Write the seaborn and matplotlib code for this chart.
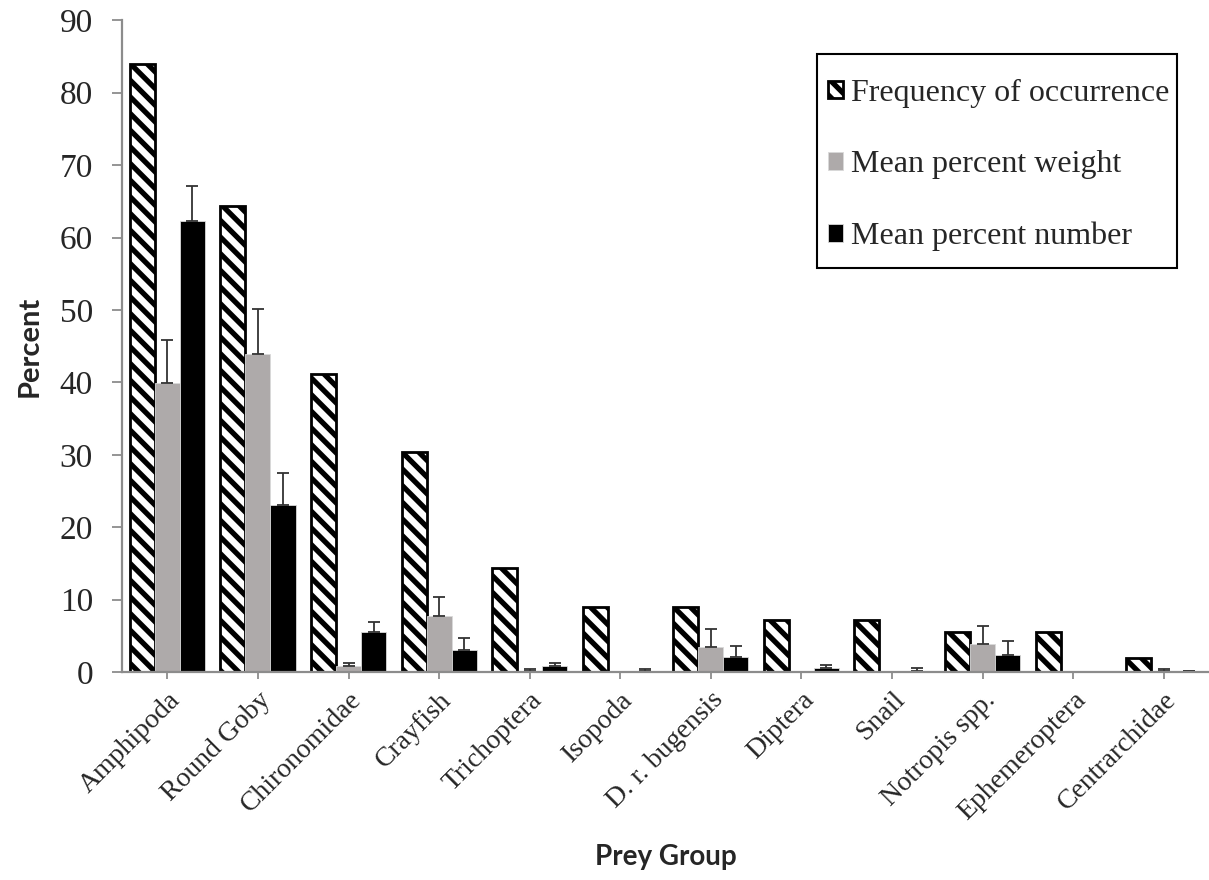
import numpy as np
import pandas as pd
import matplotlib
matplotlib.use("Agg")
import matplotlib.pyplot as plt
import seaborn as sns
from matplotlib.patches import Rectangle

# Daten
categories = ["Amphipoda", "Round Goby", "Chironomidae", "Crayfish", "Trichoptera",
              "Isopoda", "D. r. bugensis", "Diptera", "Snail", "Notropis spp.",
              "Ephemeroptera", "Centrarchidae"]
series = ["Frequency of occurrence", "Mean percent weight", "Mean percent number"]
freq = [84.0, 64.3, 41.2, 30.4, 14.4, 9.0, 9.0, 7.2, 7.2, 5.5, 5.5, 1.9]
weight = [39.9, 43.9, 0.8, 7.7, 0.1, 0.1, 3.5, 0.0, 0.1, 3.9, 0.0, 0.1]
weight_se = [6.0, 6.2, 0.5, 2.7, 0.35, 0.0, 2.4, 0.0, 0.0, 2.5, 0.0, 0.3]
number = [62.3, 23.1, 5.5, 3.1, 0.8, 0.2, 2.0, 0.5, 0.2, 2.4, 0.1, 0.1]
number_se = [4.8, 4.4, 1.45, 1.6, 0.45, 0.2, 1.6, 0.4, 0.3, 1.9, 0.0, 0.1]

df = pd.DataFrame({
    "group": categories * 3,
    "series": np.repeat(series, len(categories)),
    "value": freq + weight + number,
})

sns.set_style("white")
plt.rcParams["hatch.linewidth"] = 3.8
plt.rcParams["hatch.color"] = "black"
serif = ["Liberation Serif", "DejaVu Serif"]
axis_col = "#8c8c8c"

fig = plt.figure(figsize=(12.09, 8.8), dpi=100)
ax = fig.add_axes([0.101, 0.2364, 0.899, 0.7405])

sns.barplot(data=df, x="group", y="value", hue="series", hue_order=series,
            palette=["white", "#aeaaaa", "black"], width=0.83, ax=ax,
            errorbar=None, legend=False, saturation=1)

# schraffierte Balken
for p in ax.containers[0]:
    p.set_hatch("\\\\")
    p.set_edgecolor("black")
    p.set_linewidth(2.0)
for cont in ax.containers[1:]:
    for p in cont:
        p.set_edgecolor("#d9d9d9")
        p.set_linewidth(0.6)

# Fehlerbalken (nur nach oben)
for cont, se in zip(ax.containers[1:], [weight_se, number_se]):
    xs = [p.get_x() + p.get_width() / 2 for p in cont]
    hs = [p.get_height() for p in cont]
    keep = [i for i in range(len(se)) if se[i] > 0]
    ax.errorbar([xs[i] for i in keep], [hs[i] for i in keep],
                yerr=[[0] * len(keep), [se[i] for i in keep]],
                fmt="none", ecolor="#333333", elinewidth=1.3, capsize=4.3,
                capthick=1.3)

ax.set_ylim(0, 90)
ax.set_xlim(-0.5, len(categories) - 0.5)
ax.set_yticks(range(0, 91, 10))
ax.set_yticklabels([str(v) for v in range(0, 91, 10)], family=serif, fontsize=24)
ax.set_xticks(range(len(categories)))
ax.set_xticklabels(categories, family=serif, fontsize=20, rotation=45,
                   ha="right", rotation_mode="anchor")

for side in ["top", "right"]:
    ax.spines[side].set_visible(False)
for side in ["left", "bottom"]:
    ax.spines[side].set_color(axis_col)
    ax.spines[side].set_linewidth(1.6)
ax.tick_params(axis="y", direction="out", length=7, width=1.3, color=axis_col,
               left=True, pad=14)
ax.tick_params(axis="x", direction="out", length=5, width=1.3, color=axis_col,
               bottom=True, pad=6)

ax.set_ylabel("Percent", family="Lato", fontweight="bold", fontsize=21, labelpad=12)
ax.set_xlabel("Prey Group", family="Lato", fontweight="bold", fontsize=20, labelpad=14)

# Legende ohne eigenen Rahmen, Rahmen separat
leg = ax.legend(list(ax.containers), series, loc="upper left",
                bbox_to_anchor=(0.6495, 0.910), frameon=False,
                prop={"family": serif, "size": 23}, handlelength=0.47,
                handleheight=0.47, handletextpad=0.25, labelspacing=1.33,
                borderpad=0, borderaxespad=0)
ax.add_patch(Rectangle((0.6393, 0.620), 0.9706 - 0.6393, 0.9484 - 0.620,
                       transform=ax.transAxes, fill=False, edgecolor="black",
                       linewidth=1.5, clip_on=False, zorder=5))

fig.savefig("out.png", dpi=100)
